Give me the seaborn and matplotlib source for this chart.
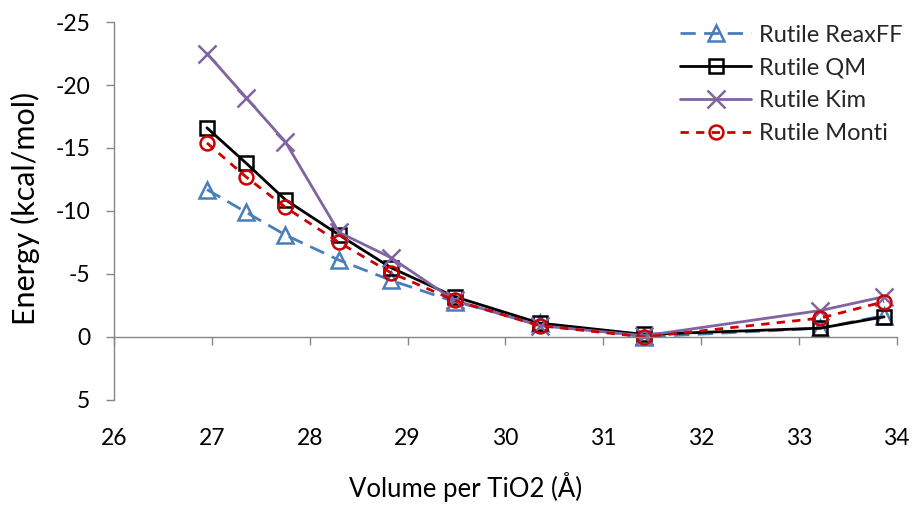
import matplotlib
matplotlib.use("Agg")
import matplotlib.pyplot as plt
import seaborn as sns
import pandas as pd

# Volume per TiO2 unit (Å) at which each energy was evaluated
volume = [26.95, 27.35, 27.75, 28.30, 28.83, 29.48, 30.35, 31.42, 33.22, 33.87]

# Relative energies (kcal/mol) for each model
energy_reaxff = [-11.7, -9.9, -8.1, -6.1, -4.5, -2.8, -1.1, 0.0, -0.7, -1.7]
energy_qm = [-16.6, -13.8, -10.9, -8.1, -5.5, -3.2, -1.1, -0.2, -0.7, -1.6]
energy_kim = [-22.5, -19.0, -15.5, -8.3, -6.3, -2.9, -0.9, -0.1, -2.1, -3.2]
energy_monti = [-15.4, -12.7, -10.3, -7.5, -5.1, -2.9, -0.9, 0.0, -1.5, -2.8]

series_labels = ["Rutile ReaxFF", "Rutile QM", "Rutile Kim", "Rutile Monti"]
x_ticks = [26, 27, 28, 29, 30, 31, 32, 33, 34]
y_ticks = [-25, -20, -15, -10, -5, 0, 5]

sns.set_theme(style="white")
plt.rcParams["font.family"] = ["Lato", "DejaVu Sans"]

fig = plt.figure(figsize=(9.16, 5.05), dpi=100)
ax = fig.add_axes([0.1245, 0.208, 0.8545, 0.7484])

styles = [
    dict(color="#4A7EBB", marker="^", markersize=11, dashes=(5.5, 3.0)),
    dict(color="#000000", marker="s", markersize=9.5, dashes=None),
    dict(color="#8064A2", marker="x", markersize=13, dashes=None),
    dict(color="#CC0000", marker="o", markersize=10, dashes=(3.0, 2.6)),
]
values = [energy_reaxff, energy_qm, energy_kim, energy_monti]

for label, vals, st in zip(series_labels, values, styles):
    df = pd.DataFrame({"volume": volume, "energy": vals})
    sns.lineplot(
        data=df, x="volume", y="energy", ax=ax, label=label,
        color=st["color"], marker=st["marker"], markersize=st["markersize"],
        markerfacecolor="none", markeredgecolor=st["color"],
        markeredgewidth=1.8, linewidth=2.0, sort=False,
    )
    if st["dashes"] is not None:
        ax.lines[-1].set_dashes(st["dashes"])

ax.set_xlim(26, 34)
ax.set_ylim(5, -25)
ax.set_yticks(y_ticks)
ax.set_yticklabels([str(t) for t in y_ticks])
ax.set_xticks(x_ticks)

axis_grey = "#868686"
for side in ["top", "right"]:
    ax.spines[side].set_visible(False)
ax.spines["left"].set_color(axis_grey)
ax.spines["left"].set_linewidth(1.0)
ax.spines["bottom"].set_position(("data", 0))
ax.spines["bottom"].set_color(axis_grey)
ax.spines["bottom"].set_linewidth(1.0)

ax.tick_params(axis="y", direction="out", length=6, width=1.0, color=axis_grey,
               labelsize=16.5, labelcolor="#000000", pad=11, left=True)
ax.tick_params(axis="x", direction="out", length=6, width=1.0, color=axis_grey,
               labelbottom=False, bottom=True)
ax.set_xlabel("")
ax.set_ylabel("Energy (kcal/mol)", fontsize=22, color="#000000")
ax.yaxis.set_label_coords(-0.095, 0.508)

# Tick labels and title of the x axis sit along the bottom of the plot area
sec = ax.secondary_xaxis("bottom")
sec.set_xticks(x_ticks)
sec.set_xticklabels([str(t) for t in x_ticks])
sec.spines["bottom"].set_visible(False)
sec.tick_params(axis="x", length=0, labelsize=16.5, pad=20, labelcolor="#000000")
sec.set_xlabel("Volume per TiO2 (Å)", fontsize=18.5, color="#000000")
sec.xaxis.set_label_coords(0.449, -0.190, transform=ax.transAxes)

ax.legend(loc="upper right", bbox_to_anchor=(1.02, 1.018), frameon=False,
          fontsize=17, handlelength=3.0, handletextpad=0.35,
          labelspacing=0.5, borderaxespad=0.0)

fig.savefig("out.png", dpi=100)
